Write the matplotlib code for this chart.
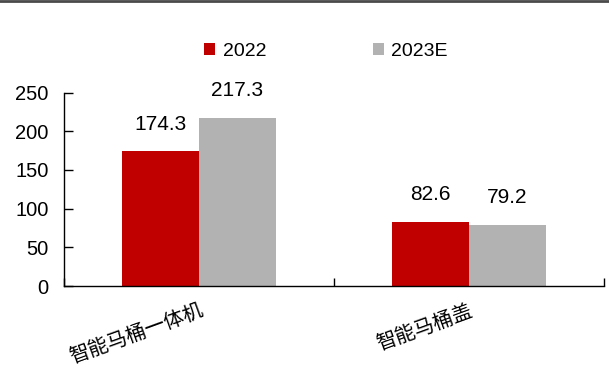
import matplotlib
matplotlib.use("Agg")
import matplotlib.pyplot as plt
from matplotlib.lines import Line2D
import numpy as np

plt.rcParams['font.family'] = ['Liberation Sans', 'Noto Sans CJK SC', 'DejaVu Sans']

categories = ["智能马桶一体机", "智能马桶盖"]
series_names = ["2022", "2023E"]
vals_2022 = [174.3, 82.6]
vals_2023 = [217.3, 79.2]
colors = ["#C00000", "#B2B2B2"]
yticks = [0, 50, 100, 150, 200, 250]

fig = plt.figure(figsize=(6.09, 3.68), dpi=100)
ax = fig.add_axes([64 / 609, 82 / 368, 540 / 609, 193.5 / 368])

x = np.arange(len(categories))
w = 0.285
for i, (vals, name) in enumerate(zip([vals_2022, vals_2023], series_names)):
    b = ax.bar(x + (i - 0.5) * w, vals, width=w, color=colors[i], label=name)
    for rect, v in zip(b, vals):
        ax.annotate("{:.1f}".format(v), (rect.get_x() + rect.get_width() / 2, v),
                    xytext=(0, 19.5), textcoords="offset points",
                    ha="center", va="center", fontsize=15)

ax.set_xlim(-0.5, len(categories) - 0.5)
ax.set_ylim(0, 250)
ax.set_yticks(yticks)
ax.tick_params(axis="y", direction="in", length=6.5, width=1, labelsize=14.5, pad=11)

# category labels, boundary ticks as minor ticks
ax.set_xticks(x)
ax.set_xticklabels(categories, rotation=20, ha="right", va="top",
                   rotation_mode="anchor",
                   fontdict={"family": ["Noto Sans CJK SC", "DejaVu Sans"]})
ax.tick_params(axis="x", which="major", length=0, labelsize=14.5, pad=11)
ax.set_xticks(np.arange(len(categories) + 1) - 0.5, minor=True)
ax.tick_params(axis="x", which="minor", direction="in", length=6, width=1)

for s in ["top", "right"]:
    ax.spines[s].set_visible(False)
for s in ["left", "bottom"]:
    ax.spines[s].set_linewidth(1)

ax.legend(loc="center", bbox_to_anchor=(0.5 - 8 / 540, 1.0 + 41 / 193.5),
          ncol=2, frameon=False, fontsize=14,
          handlelength=0.55, handleheight=0.55, handletextpad=0.4,
          columnspacing=5.5)

fig.add_artist(Line2D([0, 1], [0.997, 0.997], color="#4a4a4a", lw=2,
                      transform=fig.transFigure))

fig.savefig("out.png", dpi=100)
